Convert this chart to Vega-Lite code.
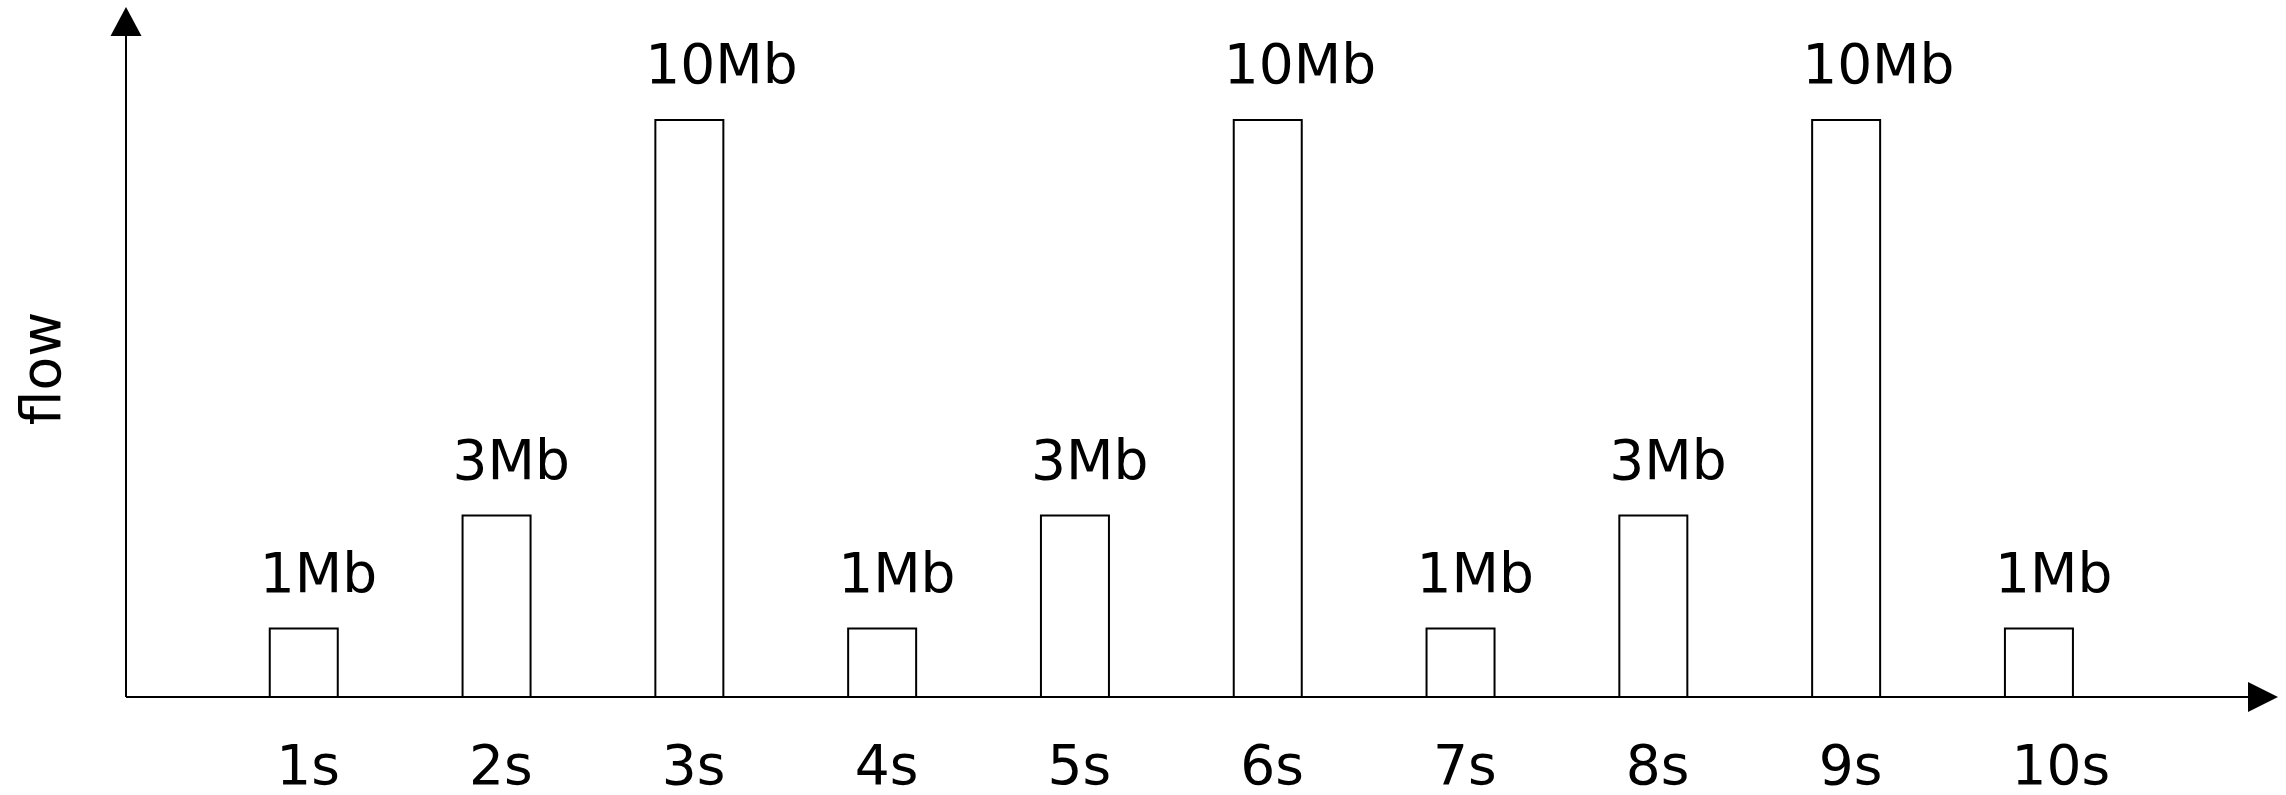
{
  "$schema": "https://vega.github.io/schema/vega-lite/v6.json",
  "width": 2152,
  "height": 690,
  "autosize": "none",
  "padding": {"left": 126, "top": 7, "right": 8, "bottom": 98},
  "background": "white",
  "config": {
    "view": {"stroke": null},
    "font": "DejaVu Sans",
    "axis": {
      "domain": false,
      "ticks": false,
      "tickSize": 0,
      "grid": false,
      "labelFont": "DejaVu Sans",
      "labelFontSize": 55,
      "labelColor": "black",
      "titleFont": "DejaVu Sans",
      "titleFontSize": 55,
      "titleFontWeight": "normal",
      "titleColor": "black"
    }
  },
  "layer": [
    {
      "data": {
        "values": [
          {"t": 1, "flow": 1, "label": "1Mb"},
          {"t": 2, "flow": 3, "label": "3Mb"},
          {"t": 3, "flow": 10, "label": "10Mb"},
          {"t": 4, "flow": 1, "label": "1Mb"},
          {"t": 5, "flow": 3, "label": "3Mb"},
          {"t": 6, "flow": 10, "label": "10Mb"},
          {"t": 7, "flow": 1, "label": "1Mb"},
          {"t": 8, "flow": 3, "label": "3Mb"},
          {"t": 9, "flow": 10, "label": "10Mb"},
          {"t": 10, "flow": 1, "label": "1Mb"}
        ]
      },
      "layer": [
        {
          "mark": {"type": "bar", "width": 68, "fill": "white", "stroke": "black", "strokeWidth": 2},
          "encoding": {
            "x": {
              "field": "t",
              "type": "quantitative",
              "scale": {"domain": [0.078, 11.24], "nice": false, "zero": false, "padding": 0},
              "axis": {
                "title": null,
                "values": [1, 2, 3, 4, 5, 6, 7, 8, 9, 10],
                "labelExpr": "datum.value + 's'",
                "labelAlign": "left",
                "labelBaseline": "alphabetic",
                "labelOffset": -28,
                "labelPadding": 86,
                "labelOverlap": false,
                "labelFlush": false
              }
            },
            "y": {
              "field": "flow",
              "type": "quantitative",
              "scale": {"domain": [-0.21, 12], "nice": false, "zero": false, "padding": 0},
              "axis": {
                "title": "flow",
                "labels": false,
                "titleAngle": -90,
                "titleAlign": "center",
                "titleBaseline": "alphabetic",
                "titleX": -67,
                "titleY": 361
              }
            },
            "y2": {"datum": -0.21}
          }
        },
        {
          "mark": {"type": "text", "align": "left", "baseline": "alphabetic", "dx": -44, "dy": -37, "fontSize": 55, "font": "DejaVu Sans", "color": "black"},
          "encoding": {
            "x": {"field": "t", "type": "quantitative"},
            "y": {"field": "flow", "type": "quantitative"},
            "text": {"field": "label"}
          }
        }
      ]
    },
    {
      "data": {"values": [{"axis": "frame"}]},
      "layer": [
        {
          "mark": {"type": "rule", "color": "black", "strokeWidth": 2},
          "encoding": {
            "x": {"datum": 0.078, "type": "quantitative"},
            "y": {"datum": -0.21, "type": "quantitative"},
            "y2": {"datum": 11.5}
          }
        },
        {
          "mark": {"type": "rule", "color": "black", "strokeWidth": 2},
          "encoding": {
            "x": {"datum": 0.078, "type": "quantitative"},
            "x2": {"datum": 11.09},
            "y": {"datum": -0.21, "type": "quantitative"}
          }
        },
        {
          "mark": {"type": "point", "shape": "M0,0L1,1.87L-1,1.87Z", "size": 961, "filled": true, "color": "black", "opacity": 1, "strokeWidth": 0},
          "encoding": {
            "x": {"datum": 0.078, "type": "quantitative"},
            "y": {"datum": 12, "type": "quantitative"}
          }
        },
        {
          "mark": {"type": "point", "shape": "M0,0L-2,-1L-2,1Z", "size": 900, "filled": true, "color": "black", "opacity": 1, "strokeWidth": 0},
          "encoding": {
            "x": {"datum": 11.24, "type": "quantitative"},
            "y": {"datum": -0.21, "type": "quantitative"}
          }
        }
      ]
    }
  ]
}
